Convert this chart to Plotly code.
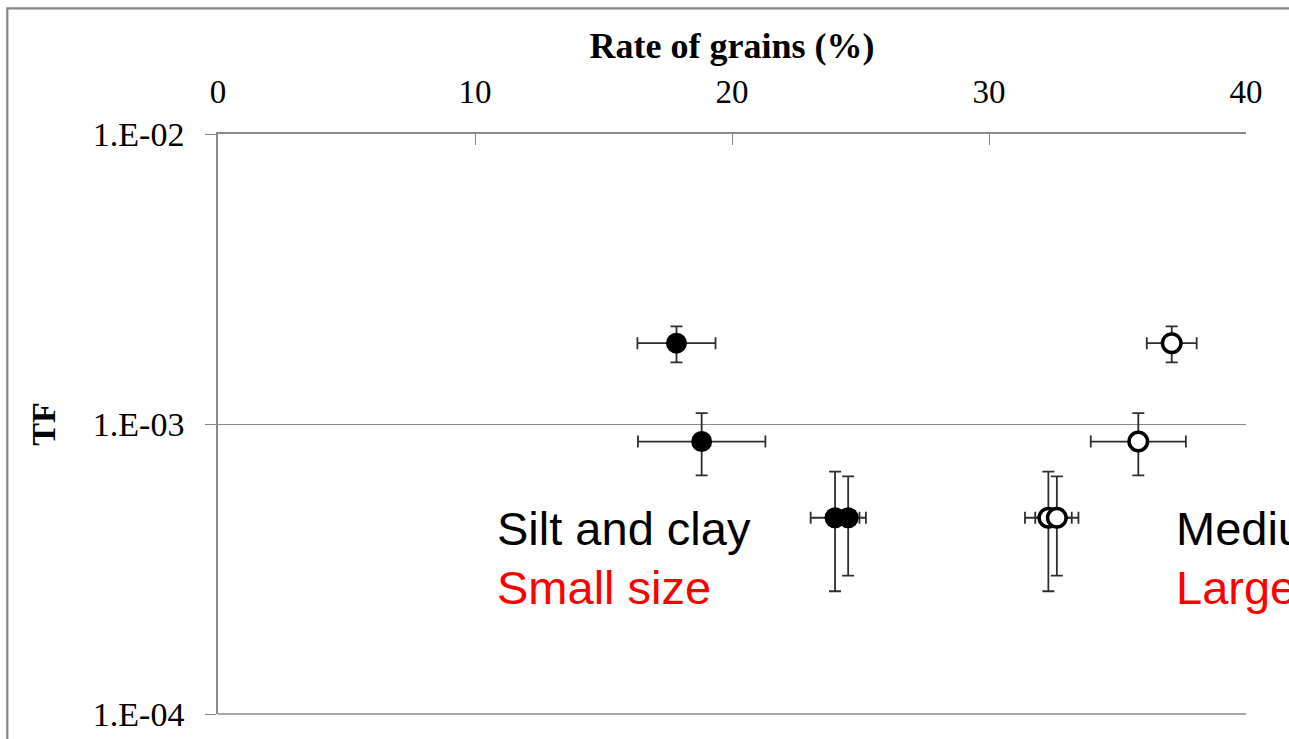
import math
import plotly.graph_objects as go

# Rate of grains (%) vs transfer factor, two size classes
fine_rate = [17.84, 18.82, 24.01, 24.52]
fine_rate_err = [1.52, 2.48, 0.95, 0.69]
coarse_rate = [37.11, 35.81, 32.31, 32.64]
coarse_rate_err = [0.97, 1.85, 0.91, 0.84]

tf_values = [1.90e-3, 8.7e-4, 4.75e-4, 4.75e-4]
tf_err_plus = [2.7e-4, 2.2e-4, 2.1e-4, 1.85e-4]
tf_err_minus = [2.7e-4, 2.05e-4, 2.1e-4, 1.75e-4]

x_ticks = [0, 10, 20, 30, 40]
y_ticks = [1e-4, 1e-3, 1e-2]
y_tick_text = ["1.E-04", "1.E-03", "1.E-02"]

W, H = 1289, 739
ML, MR, MT, MB = 218, 43, 134, 25

err_style = dict(color="#2e2e2e", thickness=1.8, width=6)


def add_series(rate, rate_err, fill, line_w, size):
    fig.add_trace(go.Scatter(
        x=rate, y=tf_values, mode="markers",
        marker=dict(size=size, color=fill, line=dict(color="black", width=line_w)),
        error_x=dict(type="data", array=rate_err, **err_style),
        error_y=dict(type="data", array=tf_err_plus, arrayminus=tf_err_minus, **err_style),
        showlegend=False, cliponaxis=False,
    ))


fig = go.Figure()
add_series(fine_rate, fine_rate_err, "black", 0, 21)
add_series(coarse_rate, coarse_rate_err, "white", 3.5, 18.5)

serif = "Liberation Serif, Times New Roman, serif"
sans = "Liberation Sans, Arial, sans-serif"

fig.update_xaxes(
    side="top", range=[0, 40], tickvals=x_ticks,
    ticks="inside", ticklen=11, tickcolor="#888", tickwidth=1,
    showline=True, linecolor="#888", linewidth=1.5, mirror=False,
    showgrid=False, zeroline=False,
    tickfont=dict(family=serif, size=33, color="black"),
    ticklabelstandoff=16,
    title=dict(text="<b>Rate of grains (%)</b>",
               font=dict(family=serif, size=36, color="black"), standoff=4),
)
fig.update_yaxes(
    type="log", range=[-4, -2], tickvals=y_ticks, ticktext=y_tick_text,
    ticks="outside", ticklen=11, tickcolor="#888", tickwidth=1,
    showline=True, linecolor="#888", linewidth=1.5,
    showgrid=True, gridcolor="#888", gridwidth=1.2, zeroline=False,
    tickfont=dict(family=serif, size=34, color="black"),
    ticklabelstandoff=14,
    title=dict(text="<b>TF</b>", font=dict(family=serif, size=34, color="black"),
               standoff=27),
)

labels = [
    (10.76, 4.35e-4, "Silt and clay", "black"),
    (10.76, 2.73e-4, "Small size", "red"),
    (37.18, 4.35e-4, "Medium sand", "black"),
    (37.18, 2.73e-4, "Large size", "red"),
]
for lx, ly, txt, col in labels:
    fig.add_annotation(x=lx, y=math.log10(ly), text=txt, showarrow=False,
                       xanchor="left", yanchor="middle",
                       font=dict(family=sans, size=47, color=col))

# gridline along the lowest decade (bottom edge of the plot area)
fig.add_shape(type="line", xref="paper", yref="paper", x0=0, x1=1, y0=0, y1=0,
              line=dict(color="#888", width=1.5))

# outer chart frame
fig.add_shape(type="rect", xref="paper", yref="paper",
              x0=(7.3 - ML) / (W - ML - MR), x1=1.2,
              y0=-0.2, y1=(H - MB - 8.3) / (H - MT - MB),
              line=dict(color="#888", width=2.2), fillcolor="rgba(0,0,0,0)", layer="below")

fig.update_layout(
    width=W, height=H,
    margin=dict(l=ML, r=MR, t=MT, b=MB, autoexpand=False),
    plot_bgcolor="white", paper_bgcolor="white",
)

fig.write_html("out.html")
